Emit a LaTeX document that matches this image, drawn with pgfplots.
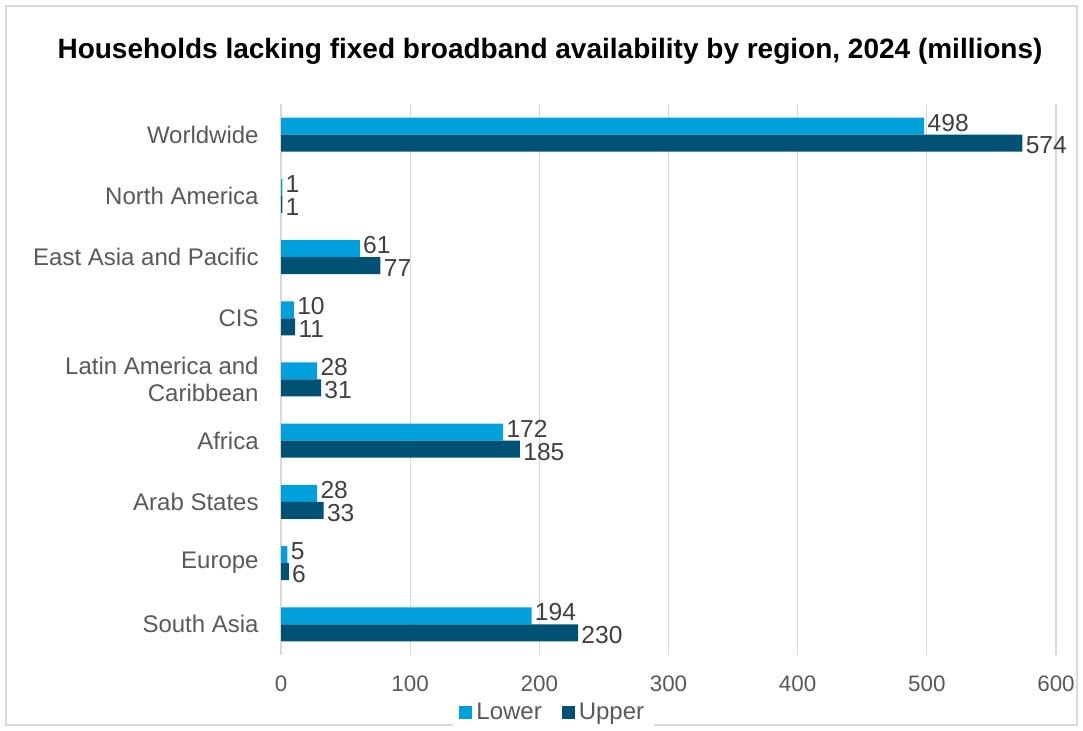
\documentclass[border=0pt]{standalone}
\usepackage{pgfplots}
\pgfplotsset{compat=1.18}
\usepackage{fontspec}
\setmainfont{Liberation Sans}
\definecolor{lowc}{HTML}{00A0DC}
\definecolor{upc}{HTML}{005274}
\definecolor{labc}{HTML}{595959}
\definecolor{valc}{HTML}{404040}
\definecolor{gridc}{HTML}{D9D9D9}
\begin{document}
\begin{tikzpicture}
% 1 px of the reference = 0.5pt
\path[use as bounding box] (0,0) rectangle (541.5pt,-365.5pt);
\draw[gridc, line width=0.6pt] (3pt,-3pt) rectangle (538.5pt,-362.5pt);
\node[font=\bfseries\fontsize{14}{16}\selectfont] at (275pt,-25.5pt)
  {Households lacking fixed broadband availability by region, 2024 (millions)};
\begin{axis}[
  at={(140.5pt,-327.5pt)}, anchor=south west,
  scale only axis,
  width=387.5pt, height=275.5pt,
  xbar, bar width=8.5pt,
  xmin=0, xmax=600,
  ymin=-0.5, ymax=8.5,
  xtick={0,100,...,600},
  ytick={0,...,8},
  yticklabels={South Asia, Europe, Arab States, Africa,
    {Latin America and\\Caribbean}, CIS, East Asia and Pacific,
    North America, Worldwide},
  axis line style={draw=none},
  major tick length=0pt,
  xmajorgrids, major grid style={gridc, line width=0.6pt},
  /pgf/number format/assume math mode=true,
  tick label style={text=labc},
  yticklabel style={font=\fontsize{12}{13.5}\selectfont, align=right,
    inner sep=0pt, xshift=-11pt},
  xticklabel style={font=\fontsize{11.2}{13}\selectfont, inner sep=0pt, yshift=-10pt},
  nodes near coords,
  every node near coord/.append style={font=\fontsize{12.3}{14}\selectfont,
    text=valc, anchor=west, inner sep=0pt, xshift=1.5pt},
  legend style={at={(0.352,-0.105)}, anchor=center, draw=none,
    legend columns=2, font=\fontsize{12}{14}\selectfont, text=labc,
    /tikz/every even column/.append style={column sep=8pt}},
  legend image code/.code={\fill[#1] (0pt,-3.25pt) rectangle (6.5pt,3.25pt);},
]
\addplot[fill=lowc, draw=none, bar shift=4.25pt,
  every node near coord/.append style={yshift=1.75pt}] coordinates {
  (194,0) (5,1) (28,2) (172,3) (28,4) (10,5) (61,6) (1,7) (498,8)};
\addlegendentry{Lower}
\addplot[fill=upc, draw=none, bar shift=-4.25pt,
  every node near coord/.append style={yshift=-1.25pt}] coordinates {
  (230,0) (6,1) (33,2) (185,3) (31,4) (11,5) (77,6) (1,7) (574,8)};
\addlegendentry{Upper}
\end{axis}
\end{tikzpicture}
\end{document}
